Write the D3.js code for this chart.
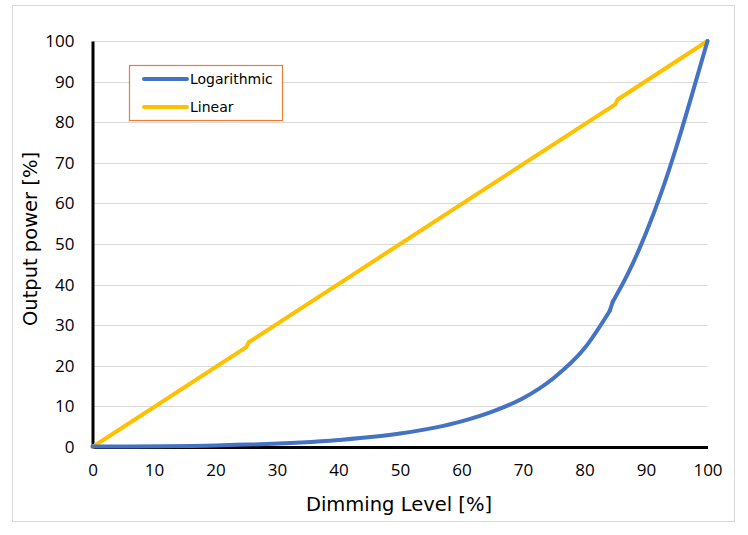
<!DOCTYPE html>
<html><head><meta charset="utf-8">
<script src="https://cdn.jsdelivr.net/npm/d3@7"></script>
<style>body{margin:0;background:#fff}</style>
</head><body>
<svg id="c" width="748" height="535"></svg>
<script>
const seriesNames = ["Logarithmic", "Linear"];
const seriesColors = ["#4472C4", "#FFC000"];
const logX = [0, 20, 40, 50, 60, 65, 70, 75, 80, 84.1, 84.6, 87, 90, 92.5, 95, 97.5, 100];
const logY = [0.1, 0.4, 1.7, 3.3, 6.3, 8.7, 12, 17, 24.3, 33.5, 35.8, 42.5, 52.7, 62.7, 74.2, 86.9, 100];
const logBreakAfter = 84.1; // small step in the reference curve
const linX = [0, 25, 25.4, 85, 85.4, 100];
const linY = [0, 24.6, 25.8, 84.4, 85.6, 100];
const xTicks = [0, 10, 20, 30, 40, 50, 60, 70, 80, 90, 100];
const yTicks = [0, 10, 20, 30, 40, 50, 60, 70, 80, 90, 100];
const xTitle = "Dimming Level [%]";
const yTitle = "Output power [%]";

const svg = d3.select("#c");
const L = 92.5, R = 707.5, T = 41, B = 447;
const x = d3.scaleLinear().domain([0, 100]).range([L, R]);
const y = d3.scaleLinear().domain([0, 100]).range([B, T]);

svg.append("rect").attr("x", 12.5).attr("y", 5.5).attr("width", 722).attr("height", 516)
  .attr("fill", "#fff").attr("stroke", "#d9d9d9").attr("stroke-width", 1);

// grid
svg.append("g").selectAll("line").data(yTicks.filter(d => d > 0)).join("line")
  .attr("x1", L).attr("x2", R).attr("y1", d => Math.round(y(d)) + 0.5).attr("y2", d => Math.round(y(d)) + 0.5)
  .attr("stroke", "#d9d9d9").attr("stroke-width", 1);

// axes
const ax = svg.append("g").attr("transform", `translate(0,${B})`)
  .call(d3.axisBottom(x).tickValues(xTicks).tickSize(0).tickPadding(17));
ax.select(".domain").attr("stroke", "#000").attr("stroke-width", 3);
ax.selectAll("text").attr("font-family", "Open Sans, sans-serif").attr("font-size", 17).attr("fill", "#000");
const ay = svg.append("g").attr("transform", `translate(${L},0)`)
  .call(d3.axisLeft(y).tickValues(yTicks).tickSize(0).tickPadding(18));
ay.select(".domain").attr("stroke", "#000").attr("stroke-width", 3);
ay.selectAll("text").attr("font-family", "Open Sans, sans-serif").attr("font-size", 17).attr("fill", "#000");

const straight = d3.line().x(d => x(d[0])).y(d => y(d[1]));
const smooth = d3.line().x(d => x(d[0])).y(d => y(d[1])).curve(d3.curveMonotoneX);
svg.append("path").datum(linX.map((v, i) => [v, linY[i]])).attr("d", straight)
  .attr("fill", "none").attr("stroke", seriesColors[1]).attr("stroke-width", 4).attr("stroke-linecap", "round");

const logPts = logX.map((v, i) => [v, logY[i]]);
const segA = logPts.filter(d => d[0] <= logBreakAfter);
const segB = logPts.filter(d => d[0] > logBreakAfter);
const lg0 = svg.append("g").attr("fill", "none").attr("stroke", seriesColors[0]).attr("stroke-width", 4)
  .attr("stroke-linecap", "round").attr("stroke-linejoin", "round");
lg0.append("path").datum(segA).attr("d", smooth);
lg0.append("path").datum([segA[segA.length - 1], segB[0]]).attr("d", straight);
lg0.append("path").datum(segB).attr("d", smooth);

// titles
svg.append("text").attr("x", 399).attr("y", 511).attr("text-anchor", "middle")
  .attr("font-family", "DejaVu Sans, Verdana, sans-serif").attr("font-size", 19.5).text(xTitle);
svg.append("text").attr("transform", "translate(37,239) rotate(-90)").attr("text-anchor", "middle")
  .attr("font-family", "DejaVu Sans, Verdana, sans-serif").attr("font-size", 19.5).text(yTitle);

// legend
const lg = svg.append("g");
lg.append("rect").attr("x", 129.5).attr("y", 65.5).attr("width", 153).attr("height", 55)
  .attr("fill", "#fff").attr("stroke", "#ED7D31").attr("stroke-width", 1.2);
seriesNames.forEach((n, i) => {
  const yy = 79 + i * 28;
  lg.append("line").attr("x1", 144).attr("x2", 187).attr("y1", yy).attr("y2", yy)
    .attr("stroke", seriesColors[i]).attr("stroke-width", 4).attr("stroke-linecap", "round");
  lg.append("text").attr("x", 190).attr("y", yy + 5).attr("font-family", "DejaVu Sans, Verdana, sans-serif")
    .attr("font-size", 14).text(n);
});
</script>
</body></html>
